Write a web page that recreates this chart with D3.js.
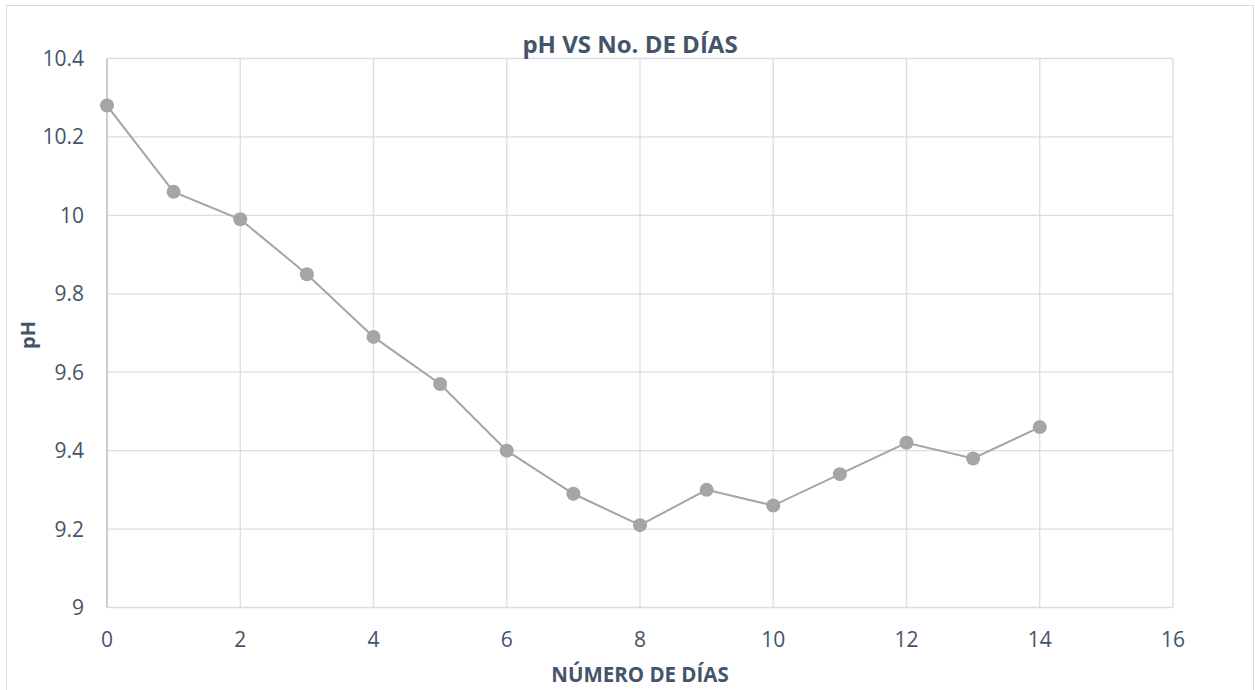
<!DOCTYPE html>
<html><head><meta charset="utf-8">
<script src="https://cdn.jsdelivr.net/npm/d3@7"></script>
<style>body{margin:0;background:#fff}svg{display:block}text{font-family:"Open Sans","Noto Sans",sans-serif}</style>
</head><body><svg id="c" width="1255" height="690"></svg>
<script>
const days = [0,1,2,3,4,5,6,7,8,9,10,11,12,13,14];
const ph = [10.28,10.06,9.99,9.85,9.69,9.57,9.40,9.29,9.21,9.30,9.26,9.34,9.42,9.38,9.46];
const xTicks = [0,2,4,6,8,10,12,14,16];
const yTicks = [9,9.2,9.4,9.6,9.8,10,10.2,10.4];
const title = "pH VS No. DE DÍAS";
const xTitle = "NÚMERO DE DÍAS";
const yTitle = "pH";

const svg = d3.select("#c");
const W=1255,H=690;
svg.append("rect").attr("x",6.5).attr("y",5.5).attr("width",W-8).attr("height",H).attr("fill","#fff").attr("stroke","#d9d9d9").attr("stroke-width",1);
const x = d3.scaleLinear().domain([0,16]).range([107,1173]);
const y = d3.scaleLinear().domain([9,10.4]).range([607.5,58.5]);
const txt="#44546a", grid="#d9dde6";
const g = svg.append("g");
g.selectAll(".hg").data(yTicks).join("line").attr("x1",x(0)).attr("x2",x(16)).attr("y1",d=>y(d)).attr("y2",d=>y(d)).attr("stroke",grid).attr("stroke-width",1.3);
g.selectAll(".vg").data(xTicks).join("line").attr("x1",d=>x(d)).attr("x2",d=>x(d)).attr("y1",y(9)).attr("y2",y(10.4)).attr("stroke",grid).attr("stroke-width",1.3);
g.append("line").attr("x1",x(0)).attr("x2",x(0)).attr("y1",y(9)).attr("y2",y(10.4)).attr("stroke","#b8c0d4").attr("stroke-width",1.3);
g.selectAll(".yl").data(yTicks).join("text").attr("x",84).attr("y",d=>y(d)).attr("dy","0.36em").attr("text-anchor","end").attr("font-size",21).attr("fill",txt).text(d=>d3.format("~g")(d));
g.selectAll(".xl").data(xTicks).join("text").attr("x",d=>x(d)).attr("y",639).attr("dy","0.36em").attr("text-anchor","middle").attr("font-size",21).attr("fill",txt).text(d=>d);
const line=d3.line().x((d,i)=>x(days[i])).y(d=>y(d));
g.append("path").datum(ph).attr("d",line).attr("fill","none").attr("stroke","#a5a5a5").attr("stroke-width",2);
g.selectAll(".pt").data(ph).join("circle").attr("cx",(d,i)=>x(days[i])).attr("cy",d=>y(d)).attr("r",7).attr("fill","#a5a5a5");
svg.append("text").attr("x",630).attr("y",53).attr("text-anchor","middle").attr("font-size",24).attr("font-weight","bold").attr("fill",txt).text(title);
svg.append("text").attr("x",640).attr("y",682).attr("text-anchor","middle").attr("font-size",20.5).attr("font-weight","bold").attr("fill",txt).text(xTitle);
svg.append("text").attr("transform","translate(35,335) rotate(-90)").attr("text-anchor","middle").attr("font-size",20).attr("font-weight","bold").attr("fill",txt).text(yTitle);
</script></body></html>
